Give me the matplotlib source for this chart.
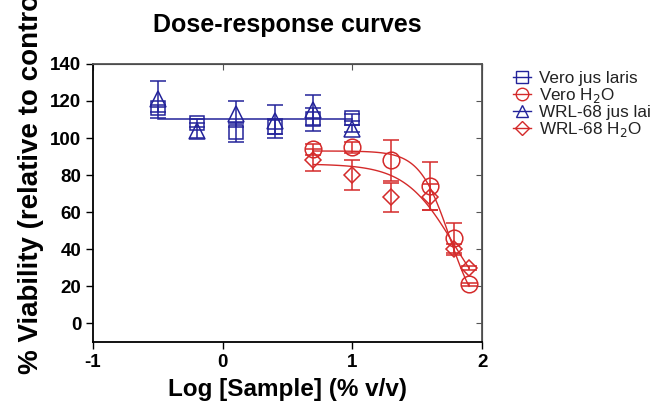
import numpy as np
import matplotlib.pyplot as plt
from matplotlib.lines import Line2D

plt.rcParams['font.family'] = ['Liberation Sans', 'DejaVu Sans']
plt.rcParams['axes.unicode_minus'] = False

# data: log concentration, mean viability and error
x_blue = [-0.5, -0.2, 0.1, 0.4, 0.7, 1.0]
vero_jus = [116, 108, 103, 106, 110, 111]
vero_jus_err = [2, 2, 5, 4, 6, 2]
wrl_jus = [121, 104, 113, 109, 115, 105]
wrl_jus_err = [10, 4, 7, 9, 8, 2]

x_red = [0.7, 1.0, 1.3, 1.6, 1.78, 1.9]
vero_h2o = [94, 95, 88, 74, 46, 21]
vero_h2o_err = [3, 3, 11, 13, 8, 1]
wrl_h2o = [88, 80, 68, 68, 40, 30]
wrl_h2o_err = [6, 8, 8, 7, 3, 1]

# fitted curve parameters (top, bottom, logEC50, hill)
fit_blue = (110, 110, 0.0, 1.0)
fit_vero_h2o = (93, 0, 1.75, 3.75)
fit_wrl_h2o = (86, 0, 1.78, 2.3)

legend_labels = ['Vero jus laris', 'Vero H$_2$O', 'WRL-68 jus lai', 'WRL-68 H$_2$O']

blue = '#23239a'
red = '#d42a2a'


def logistic(x, p):
    top, bottom, ec, h = p
    return bottom + (top - bottom) / (1 + 10 ** ((x - ec) * h))


fig = plt.figure(figsize=(6.64, 4.07), dpi=100)
ax = fig.add_axes([0.140, 0.160, 0.586, 0.683])

# curves
xb = np.linspace(-0.5, 1.0, 50)
ax.plot(xb, logistic(xb, fit_blue), color=blue, lw=1.1)
xr = np.linspace(0.7, 1.9, 100)
ax.plot(xr, logistic(xr, fit_vero_h2o), color=red, lw=1.0)
ax.plot(xr, logistic(xr, fit_wrl_h2o), color=red, lw=1.0)

kw = dict(linestyle='none', mfc='none', capsize=5.5, elinewidth=1.1,
          capthick=1.1, mew=1.1)
ax.errorbar(x_blue, vero_jus, yerr=vero_jus_err, marker='s', ms=10,
            color=blue, **kw)
ax.errorbar(x_blue, wrl_jus, yerr=wrl_jus_err, marker='^', ms=11,
            color=blue, **kw)
ax.errorbar(x_red, vero_h2o, yerr=vero_h2o_err, marker='o', ms=12,
            color=red, **kw)
ax.errorbar(x_red, wrl_h2o, yerr=wrl_h2o_err, marker='D', ms=8,
            color=red, **kw)

ax.set_xlim(-1, 2)
ax.set_ylim(-10, 140)
ax.set_xticks([-1, 0, 1, 2])
ax.set_yticks(range(0, 141, 20))
ax.tick_params(direction='out', length=5, width=1, labelsize=13.5)
for lab in ax.get_xticklabels() + ax.get_yticklabels():
    lab.set_fontweight('bold')
for s in ['left', 'bottom']:
    ax.spines[s].set_linewidth(1.3)
for s in ['top', 'right']:
    ax.spines[s].set_color('#555555')
    ax.spines[s].set_linewidth(1.3)

top = ax.secondary_xaxis('top')
top.set_xticks([-1, 0, 1, 2])
top.tick_params(direction='in', length=4, labeltop=False, colors='#555555')
right = ax.secondary_yaxis('right')
right.set_yticks(range(0, 141, 20))
right.tick_params(direction='in', length=4, labelright=False, colors='#555555')

ax.set_xlabel('Log [Sample] (% v/v)', fontsize=17.5, fontweight='bold', labelpad=5)
ax.set_ylabel('% Viability (relative to control)', fontsize=20,
              fontweight='bold')
ax.yaxis.set_label_coords(-0.125, 0.60)
fig.text(0.433, 0.921, 'Dose-response curves', fontsize=18,
         fontweight='bold', ha='center', va='baseline')

handles = [
    Line2D([], [], color=blue, marker='s', mfc='none', ms=8, lw=1),
    Line2D([], [], color=red, marker='o', mfc='none', ms=9, lw=1),
    Line2D([], [], color=blue, marker='^', mfc='none', ms=9, lw=1),
    Line2D([], [], color=red, marker='D', mfc='none', ms=7, lw=1),
]
leg = fig.legend(handles, legend_labels, loc='upper left',
                 bbox_to_anchor=(0.763, 0.843), frameon=False, fontsize=12.3,
                 handlelength=1.0, handletextpad=0.5, labelspacing=0.0,
                 borderaxespad=0)
for t in leg.get_texts():
    t.set_color('#222222')

fig.savefig('out.png', dpi=100)
